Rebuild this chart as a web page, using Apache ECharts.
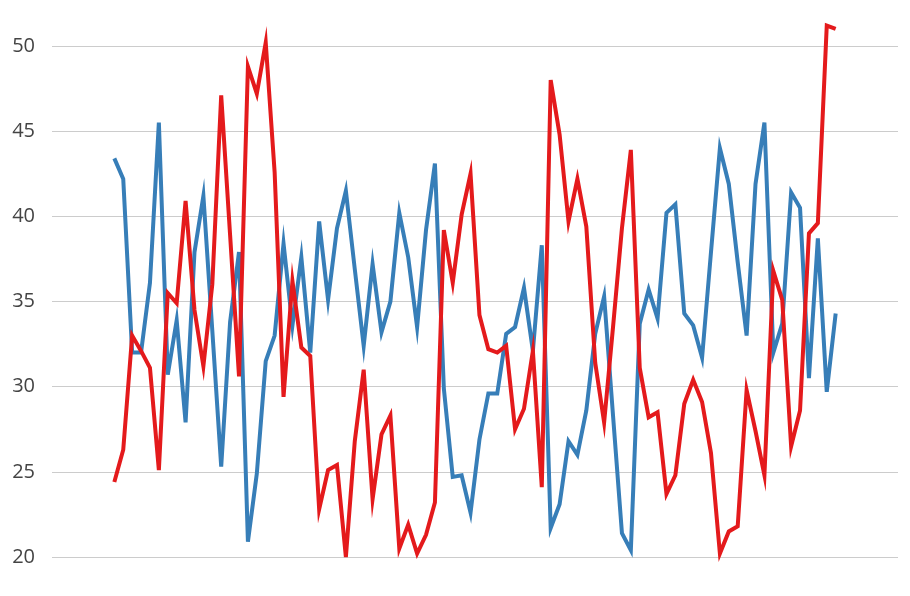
<!DOCTYPE html>
<html>
<head>
<meta charset="utf-8">
<script src="https://cdn.jsdelivr.net/npm/echarts@6/dist/echarts.min.js"></script>
<style>
  html, body { margin: 0; padding: 0; background: #fff; }
  #main { width: 910px; height: 596px; }
</style>
</head>
<body>
<div id="main"></div>
<script>
// values, one per step
var blueValues = [
  43.4, 42.2, 32.0, 32.0, 36.1, 45.5, 30.7, 33.9, 27.9, 37.9,
  41.2, 33.3, 25.3, 33.8, 37.9, 20.9, 24.9, 31.5, 33.0, 38.4,
  33.6, 37.6, 32.0, 39.7, 35.1, 39.3, 41.5, 36.9, 32.4, 37.2,
  33.2, 35.0, 40.2, 37.6, 33.5, 39.2, 43.1, 29.9, 24.7, 24.8,
  22.6, 26.9, 29.6, 29.6, 33.1, 33.5, 35.8, 32.1, 38.3, 21.7,
  23.1, 26.8, 26.0, 28.6, 33.1, 35.3, 28.3, 21.4, 20.4, 33.7,
  35.7, 34.0, 40.2, 40.7, 34.3, 33.6, 31.7, 37.9, 44.0, 41.9,
  37.3, 33.0, 41.9, 45.5, 32.0, 33.7, 41.4, 40.5, 30.5, 38.7,
  29.7, 34.3
];
var redValues = [
  24.4, 26.3, 33.0, 32.1, 31.1, 25.1, 35.5, 34.9, 40.9, 34.5,
  31.2, 36.0, 47.1, 38.9, 30.6, 48.8, 47.2, 50.2, 42.6, 29.4,
  36.2, 32.3, 31.8, 22.8, 25.1, 25.4, 20.0, 26.8, 31.0, 23.4,
  27.2, 28.3, 20.5, 21.9, 20.2, 21.3, 23.2, 39.2, 36.1, 40.1,
  42.5, 34.2, 32.2, 32.0, 32.4, 27.5, 28.7, 32.1, 24.1, 48.0,
  44.8, 39.7, 42.2, 39.4, 31.4, 27.9, 33.5, 39.3, 43.9, 31.1,
  28.2, 28.5, 23.7, 24.8, 29.0, 30.4, 29.1, 26.1, 20.2, 21.5,
  21.8, 29.8, 27.4, 24.8, 36.8, 35.1, 26.5, 28.6, 39.0, 39.6,
  51.2, 51.0
];
var yTicks = [20, 25, 30, 35, 40, 45, 50];

function toPoints(values) {
  return values.map(function (v, i) { return [i, v]; });
}

var myChart = echarts.init(document.getElementById("main"));
var option = {
  animation: false,
  grid: {
    left: 52,
    right: 12,
    top: 46,
    bottom: 39
  },
  xAxis: {
    type: "value",
    min: -7,
    max: 88,
    show: false
  },
  yAxis: {
    type: "value",
    min: yTicks[0],
    max: yTicks[yTicks.length - 1],
    interval: 5,
    axisLine: { show: false },
    axisTick: { show: false },
    axisLabel: {
      margin: 17,
      fontSize: 20,
      fontFamily: "Open Sans",
      color: "#444"
    },
    splitLine: {
      lineStyle: { color: "#cccccc", width: 1 }
    }
  },
  series: [
    {
      name: "blue",
      type: "line",
      data: toPoints(blueValues),
      showSymbol: false,
      clip: false,
      lineStyle: { color: "#377eb8", width: 4, join: "miter" }
    },
    {
      name: "red",
      type: "line",
      data: toPoints(redValues),
      showSymbol: false,
      clip: false,
      lineStyle: { color: "#e41a1c", width: 4, join: "miter" }
    }
  ]
};
myChart.setOption(option);
</script>
</body>
</html>
